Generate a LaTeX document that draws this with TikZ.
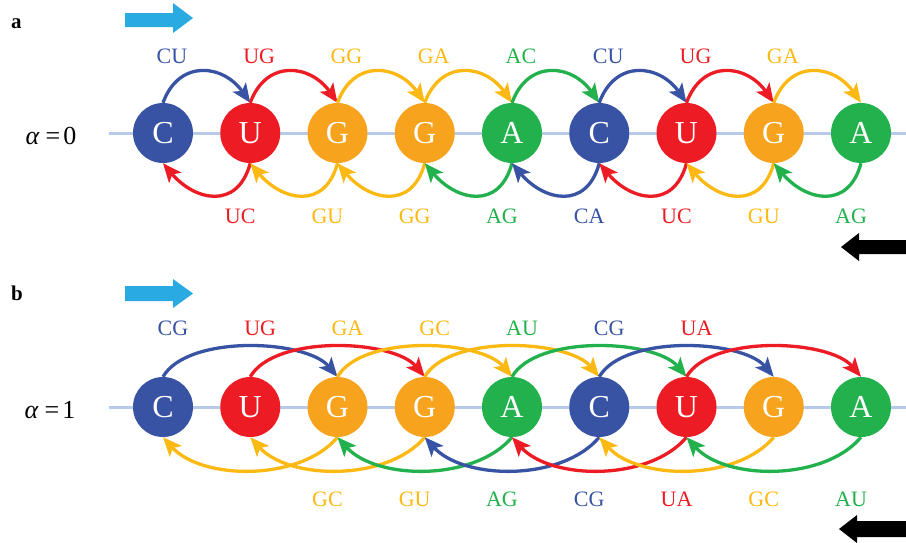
\documentclass[tikz,border=0pt]{standalone}
\usepackage{fontspec}
\setmainfont{Liberation Serif}
\usetikzlibrary{arrows.meta}

\definecolor{nblue}{HTML}{3953A4}
\definecolor{nred}{HTML}{ED1C24}
\definecolor{norange}{HTML}{F8A31E}
\definecolor{nyellow}{HTML}{FDB913}
\definecolor{ngreen}{HTML}{22B14C}
\definecolor{axisline}{HTML}{B7CBE8}
\definecolor{flow}{HTML}{29ABE2}
% colour of the transitions leaving each base
\colorlet{arcC}{nblue}
\colorlet{arcU}{nred}
\colorlet{arcG}{nyellow}
\colorlet{arcA}{ngreen}

\begin{document}
\begin{tikzpicture}[x=1pt,y=-1pt,
  basenode/.style={circle,minimum size=60pt,inner sep=0pt,text=white,
    font=\fontsize{32}{32}\selectfont},
  nC/.style={basenode,fill=nblue},
  nU/.style={basenode,fill=nred},
  nG/.style={basenode,fill=norange},
  nA/.style={basenode,fill=ngreen},
  link/.style={line width=3.3pt,-{Stealth[length=19pt,width=16pt,inset=4.5pt]}},
  pairlbl/.style={anchor=base,inner sep=0pt,font=\fontsize{22}{22}\selectfont},
  rowlbl/.style={anchor=base,inner sep=0pt,font=\fontsize{26}{26}\selectfont},
  panellbl/.style={anchor=base west,inner sep=0pt,font=\fontsize{21}{21}\selectfont\bfseries},
  strand/.style={line width=3pt,axisline}]

\useasboundingbox (0,0) rectangle (906,542);

% panel letters and direction arrows
\node[panellbl] (pa) at (11,28) {a};
\node[panellbl] (pb) at (11,300) {b};
\fill[flow] (125,13) -- (173,13) -- (173,3) -- (193,18) -- (173,33) -- (173,27) -- (125,27) -- cycle;
\fill[flow] (125,286) -- (173,286) -- (173,279) -- (193,293.5) -- (173,308) -- (173,301) -- (125,301) -- cycle;
\fill[black] (906,240) -- (859,240) -- (859,233) -- (841,247) -- (859,261) -- (859,254) -- (906,254) -- cycle;
\fill[black] (906,521) -- (857,521) -- (857,515) -- (839,529) -- (857,543) -- (857,537) -- (906,537) -- cycle;

% strands
\draw[strand] (109,133) -- (906,133);
\draw[strand] (109,407) -- (906,407);

% row labels
\node[rowlbl] (alpha0) at (51,144) {\textit{α}\hspace{6pt}=\hspace{3pt}0};
\node[rowlbl] (alpha1) at (50,418) {\textit{α}\hspace{6pt}=\hspace{3pt}1};

% bases
\foreach \b [count=\i] in {C,U,G,G,A,C,U,G,A} {
  \node[n\b] (a\i) at ({163+87.25*(\i-1)},133) {\b};
  \node[n\b] (b\i) at ({163+87.25*(\i-1)},407) {\b};
}

% alpha = 0 : forward neighbours
\foreach \s/\t/\c/\txt in {1/2/C/CU,2/3/U/UG,3/4/G/GG,4/5/G/GA,5/6/A/AC,6/7/C/CU,7/8/U/UG,8/9/G/GA} {
  \draw[link,color=arc\c] (a\s.north) to[out=70,in=125,distance=47pt] (a\t.north);
  \path (a\s) ++(9,-70) node[pairlbl,text=arc\c] (ta\s) {\txt};
}
% alpha = 0 : backward neighbours
\foreach \s/\t/\c/\txt in {2/1/U/UC,3/2/G/GU,4/3/G/GG,5/4/A/AG,6/5/C/CA,7/6/U/UC,8/7/G/GU,9/8/A/AG} {
  \draw[link,color=arc\c] (a\s.south) to[out=255,in=310,distance=49pt] (a\t.south);
  \path (a\s) ++(-10,90) node[pairlbl,text=arc\c] (ba\s) {\txt};
}

% alpha = 1 : forward, skipping one base
\foreach \s/\t/\c/\txt in {1/3/C/CG,2/4/U/UG,3/5/G/GA,4/6/G/GC,5/7/A/AU,6/8/C/CG,7/9/U/UA} {
  \draw[link,color=arc\c] (b\s.north) to[out=60,in=130,distance=49pt] (b\t.north);
  \path (b\s) ++(10,-72) node[pairlbl,text=arc\c] (tb\s) {\txt};
}
% alpha = 1 : backward, skipping one base
\foreach \s/\t/\c/\txt in {3/1/G/GC,4/2/G/GU,5/3/A/AG,6/4/C/CG,7/5/U/UA,8/6/G/GC,9/7/A/AU} {
  \draw[link,color=arc\c] (b\s.south) to[out=230,in=312,distance=58pt] (b\t.south);
  \path (b\s) ++(-10,99) node[pairlbl,text=arc\c] (bb\s) {\txt};
}

\end{tikzpicture}
\end{document}
